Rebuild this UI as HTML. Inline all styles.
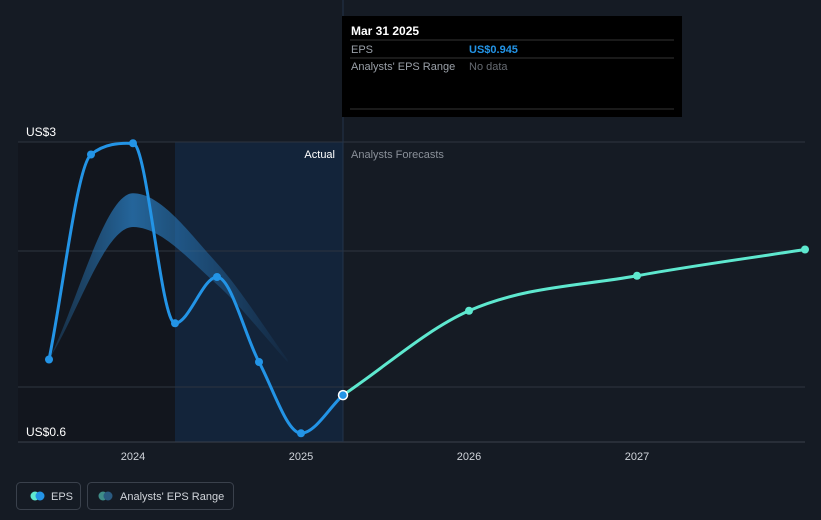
<!DOCTYPE html>
<html><head><meta charset="utf-8"><style>
html,body{margin:0;padding:0;background:#151b24;}
svg{display:block;font-family:"Liberation Sans",sans-serif;}
</style></head><body>
<svg id="c" width="821" height="520">
<rect x="0" y="0" width="821" height="520" fill="#151b24"/>
<g id="g"></g>
</svg>
<script>
const actualDates=[2023.5,2023.75,2024.0,2024.25,2024.5,2024.75,2025.0,2025.25];
const actualEps=[1.26,2.9,2.99,1.55,1.92,1.24,0.67,0.975];
const forecastDates=[2025.25,2026.0,2027.0,2028.0];
const forecastEps=[0.975,1.65,1.93,2.14];
const bandDates=[2023.5,2024.0,2024.5,2024.92];
const bandHigh=[1.26,2.59,2.03,1.26];
const bandLow=[1.26,2.32,1.86,1.24];
const yTicks=[3,0.6];
const yTickLabels=["US$3","US$0.6"];
const xTicks=[2024,2025,2026,2027];
const NS="http://www.w3.org/2000/svg";
const g=document.getElementById('g');
const X=d=>133+(d-2024)*168;
const Y=v=>142+(3-v)*125;
function mk(t,a,p){const e=document.createElementNS(NS,t);for(const k in a)e.setAttribute(k,a[k]);(p||g).appendChild(e);return e;}
function monoSegs(pts){const n=pts.length,d=[],m=[];for(let i=0;i<n-1;i++)d.push((pts[i+1][1]-pts[i][1])/(pts[i+1][0]-pts[i][0]));
m[0]=d[0];m[n-1]=d[n-2];for(let i=1;i<n-1;i++){m[i]=(d[i-1]*d[i]<=0)?0:(d[i-1]+d[i])/2;}
for(let i=0;i<n-1;i++){if(d[i]===0){m[i]=0;m[i+1]=0;continue;}const a=m[i]/d[i],b=m[i+1]/d[i],s=a*a+b*b;if(s>9){const t=3/Math.sqrt(s);m[i]=t*a*d[i];m[i+1]=t*b*d[i];}}
let s="";for(let i=0;i<n-1;i++){const h=(pts[i+1][0]-pts[i][0])/3;s+=" C"+(pts[i][0]+h)+","+(pts[i][1]+m[i]*h)+" "+(pts[i+1][0]-h)+","+(pts[i+1][1]-m[i+1]*h)+" "+pts[i+1][0]+","+pts[i+1][1];}return s;}
function mono(pts){return "M"+pts[0][0]+","+pts[0][1]+monoSegs(pts);}
let r=mk('rect',{x:18,y:142,width:157,height:300,fill:'#12161e'});

r=mk('rect',{x:175,y:142,width:168,height:300,fill:'#13243a'});

[142,251,387].forEach(y=>{const l=mk('line',{x1:18,x2:805,y1:y,y2:y,stroke:'#2e3540','stroke-width':1});});
let ax=mk('line',{x1:18,x2:805,y1:442,y2:442,stroke:'#3a414c','stroke-width':1});

let vl=mk('line',{x1:343,x2:343,y1:0,y2:442,stroke:'#23334a','stroke-width':1});

yTicks.forEach((v,i)=>{const t=mk('text',{x:26,y:Y(v)-6,fill:'#ffffff','font-size':12});t.textContent=yTickLabels[i];});
xTicks.forEach(d=>{const t=mk('text',{x:X(d),y:460,fill:'#d0d4da','font-size':11,'text-anchor':'middle'});t.textContent=d;});
let t=mk('text',{x:335,y:158,fill:'#ffffff','font-size':11,'text-anchor':'end'});t.textContent='Actual';
t=mk('text',{x:351,y:158,fill:'#8a9099','font-size':11});t.textContent='Analysts Forecasts';
const defs=mk('defs',{});
const lg=mk('linearGradient',{id:'bg',x1:0,y1:0,x2:1,y2:0},defs);
mk('stop',{offset:'0','stop-color':'#2a7fc4','stop-opacity':'0.2'},lg);
mk('stop',{offset:'0.35','stop-color':'#2a7fc4','stop-opacity':'0.75'},lg);
mk('stop',{offset:'1','stop-color':'#2a7fc4','stop-opacity':'0.05'},lg);
const hi=bandDates.map((d,i)=>[X(d),Y(bandHigh[i])]);
const lo=bandDates.map((d,i)=>[X(d),Y(bandLow[i])]).reverse();
let bp=mono(hi)+" L"+lo[0][0]+","+lo[0][1]+monoSegs(lo.map(p=>[-p[0],p[1]])).replace(/-(\d)/g,'$1')+"Z";
let band=mk('path',{d:bp,fill:'url(#bg)'});

const ap=actualDates.map((d,i)=>[X(d),Y(actualEps[i])]);
let al=mk('path',{d:mono(ap),fill:'none',stroke:'#2394e6','stroke-width':3});

const fp=forecastDates.map((d,i)=>[X(d),Y(forecastEps[i])]);
let fl=mk('path',{d:mono(fp),fill:'none',stroke:'#5ee8cf','stroke-width':3});

ap.forEach((p,i)=>{const last=i===ap.length-1;const c=mk('circle',{cx:p[0],cy:p[1],r:last?4.5:4,fill:'#2394e6',stroke:last?'#ffffff':'none','stroke-width':1.5});});
fp.slice(1).forEach(p=>{const c=mk('circle',{cx:p[0],cy:p[1],r:4,fill:'#5ee8cf'});});
const tg=mk('g',{});
mk('rect',{x:342,y:16,width:340,height:101,fill:'#000000'},tg);
mk('line',{x1:350,x2:674,y1:40,y2:40,stroke:'#333'},tg);
mk('line',{x1:350,x2:674,y1:58,y2:58,stroke:'#333'},tg);
mk('line',{x1:350,x2:674,y1:109,y2:109,stroke:'#333'},tg);
[['Mar 31 2025',351,35,'#ffffff',12,'bold'],['EPS',351,53,'#9aa0a8',11,'normal'],['US$0.945',469,53,'#2394e6',11,'bold'],["Analysts' EPS Range",351,70,'#9aa0a8',11,'normal'],['No data',469,70,'#666b72',11,'normal']].forEach(a=>{const e=mk('text',{x:a[1],y:a[2],fill:a[3],'font-size':a[4],'font-weight':a[5]},tg);e.textContent=a[0];});
const L1=mk('g',{});
mk('rect',{x:16.5,y:482.5,width:64,height:27,rx:4,fill:'none',stroke:'#3a414c'},L1);
mk('circle',{cx:35,cy:496,r:4.5,fill:'#5ee8cf'},L1);mk('circle',{cx:40,cy:496,r:4.5,fill:'#2394e6'},L1);
let e=mk('text',{x:51,y:500,fill:'#d0d4da','font-size':11},L1);e.textContent='EPS';
const L2=mk('g',{});
mk('rect',{x:87.5,y:482.5,width:146,height:27,rx:4,fill:'none',stroke:'#3a414c'},L2);
mk('circle',{cx:103,cy:496,r:4.5,fill:'#3e8c88'},L2);mk('circle',{cx:108,cy:496,r:4.5,fill:'#2a5a80'},L2);
e=mk('text',{x:120,y:500,fill:'#d0d4da','font-size':11},L2);e.textContent="Analysts' EPS Range";
</script>
</body></html>
